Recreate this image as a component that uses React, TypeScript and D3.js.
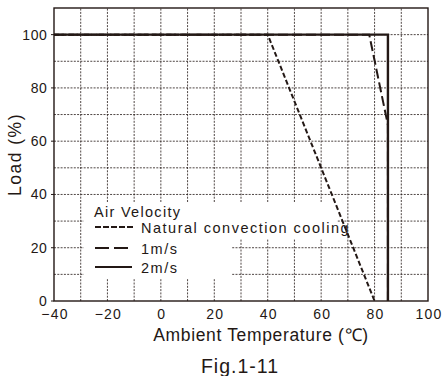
import { useEffect, useRef } from "react";
import * as d3 from "d3";

// derating curves
const naturalTemp = [-40, 40, 80];
const naturalLoad = [100, 100, 0];
const oneMsTemp = [-40, 78, 85, 85];
const oneMsLoad = [100, 100, 66, 0];
const twoMsTemp = [-40, 85, 85];
const twoMsLoad = [100, 100, 0];

const xTicks = [-40, -20, 0, 20, 40, 60, 80, 100];
const yTicks = [0, 20, 40, 60, 80, 100];
const xGrid = [-30, -20, -10, 0, 10, 20, 30, 40, 50, 60, 70, 80, 90];
const yGrid = [10, 20, 30, 40, 50, 60, 70, 80, 90, 100];

const legendLabels = ["Natural convection cooling", "1m/s", "2m/s"];

const INK = "#231815";
const FONT = "'Liberation Sans', Arial, sans-serif";

export default function App() {
  const ref = useRef<SVGSVGElement | null>(null);

  useEffect(() => {
    if (!ref.current) return;
    const width = 445;
    const height = 376;
    const margin = { top: 8, right: 17, bottom: 75, left: 54 };

    const svg = d3.select(ref.current).attr("width", width).attr("height", height);
    svg.selectAll("*").remove();

    const x = d3.scaleLinear().domain([-40, 100]).range([margin.left, width - margin.right]);
    const y = d3.scaleLinear().domain([0, 110]).range([height - margin.bottom, margin.top]);

    /* ---------------- GRID ---------------- */
    const grid = svg.append("g").attr("stroke", INK).attr("stroke-width", 0.8).attr("stroke-dasharray", "2,1.3");
    grid.selectAll(".gx")
      .data(xGrid)
      .enter()
      .append("line")
      .attr("x1", d => x(d))
      .attr("x2", d => x(d))
      .attr("y1", y(0))
      .attr("y2", y(110));
    grid.selectAll(".gy")
      .data(yGrid)
      .enter()
      .append("line")
      .attr("x1", x(-40))
      .attr("x2", x(100))
      .attr("y1", d => y(d))
      .attr("y2", d => y(d));

    /* ---------------- LEGEND BACKGROUND ---------------- */
    svg.append("rect")
      .attr("x", x(-28.8)).attr("y", 203)
      .attr("width", 337 - x(-28.8)).attr("height", 36)
      .attr("fill", "white");
    svg.append("rect")
      .attr("x", x(-28.8)).attr("y", 238)
      .attr("width", x(26.5) - x(-28.8)).attr("height", 41)
      .attr("fill", "white");

    /* ---------------- FRAME ---------------- */
    svg.append("rect")
      .attr("x", x(-40)).attr("y", y(110))
      .attr("width", x(100) - x(-40)).attr("height", y(0) - y(110))
      .attr("fill", "none").attr("stroke", INK).attr("stroke-width", 1.4);

    /* ---------------- AXES ---------------- */
    const yAxis = svg.append("g");
    yAxis.selectAll("line")
      .data(yTicks)
      .enter()
      .append("line")
      .attr("x1", x(-40) - 3).attr("x2", x(-40))
      .attr("y1", d => y(d)).attr("y2", d => y(d))
      .attr("stroke", INK).attr("stroke-width", 1);
    yAxis.selectAll("text")
      .data(yTicks)
      .enter()
      .append("text")
      .attr("x", x(-40) - 6.5)
      .attr("y", d => (d === 0 ? y(d) + 4.5 : y(d) + 5))
      .attr("text-anchor", "end")
      .attr("font-size", 14)
      .attr("letter-spacing", 0.6)
      .attr("font-family", FONT)
      .attr("fill", INK)
      .text(d => String(d));

    svg.append("g").selectAll("text")
      .data(xTicks)
      .enter()
      .append("text")
      .attr("x", d => x(d) + 1)
      .attr("y", 319)
      .attr("text-anchor", "middle")
      .attr("font-size", 14)
      .attr("letter-spacing", 1.2)
      .attr("font-family", FONT)
      .attr("fill", INK)
      .text(d => (d < 0 ? `\u2212${-d}` : String(d)));

    svg.append("text")
      .attr("x", 261).attr("y", 341)
      .attr("text-anchor", "middle")
      .attr("font-size", 17.5)
      .attr("letter-spacing", 0.65)
      .attr("font-family", FONT)
      .attr("fill", INK)
      .text("Ambient Temperature (\u2103)");

    svg.append("text")
      .attr("transform", `translate(21,${(y(0) + y(110)) / 2}) rotate(-90)`)
      .attr("text-anchor", "middle")
      .attr("font-size", 17.5)
      .attr("letter-spacing", 1.5)
      .attr("font-family", FONT)
      .attr("fill", INK)
      .text("Load (%)");

    svg.append("text")
      .attr("x", 240).attr("y", 373)
      .attr("text-anchor", "middle")
      .attr("font-size", 19.5)
      .attr("letter-spacing", 1)
      .attr("font-family", FONT)
      .attr("fill", INK)
      .text("Fig.1-11");

    /* ---------------- CURVES ---------------- */
    const line = d3.line<[number, number]>().x(d => x(d[0])).y(d => y(d[1]));
    const series = [
      { pts: d3.zip(naturalTemp, naturalLoad) as [number, number][], dash: "5,2.5", w: 2 },
      { pts: d3.zip(oneMsTemp, oneMsLoad) as [number, number][], dash: "10,4", w: 2 },
      { pts: d3.zip(twoMsTemp, twoMsLoad) as [number, number][], dash: null, w: 2.4 },
    ];
    series.forEach(s => {
      svg.append("path")
        .datum(s.pts)
        .attr("fill", "none")
        .attr("stroke", INK)
        .attr("stroke-width", s.w)
        .attr("stroke-dasharray", s.dash)
        .attr("d", line);
    });

    /* ---------------- LEGEND ---------------- */
    const lx = 95;
    svg.append("text")
      .attr("x", 94).attr("y", 216.5)
      .attr("font-size", 14.5)
      .attr("letter-spacing", 1.3)
      .attr("font-family", FONT)
      .attr("fill", INK)
      .text("Air Velocity");
    const rows = [227, 248, 267];
    series.forEach((s, i) => {
      svg.append("line")
        .attr("x1", lx).attr("x2", lx + (i === 0 ? 40 : 37))
        .attr("y1", rows[i]).attr("y2", rows[i])
        .attr("stroke", INK)
        .attr("stroke-width", i === 2 ? 2 : 1.8)
        .attr("stroke-dasharray", i === 0 ? "6,2" : i === 1 ? "14,5" : null);
      svg.append("text")
        .attr("x", 141).attr("y", rows[i] + 5.5)
        .attr("font-size", 14.5)
        .attr("letter-spacing", 1.5)
        .attr("font-family", FONT)
        .attr("fill", INK)
        .text(legendLabels[i]);
    });
  }, []);

  return <svg ref={ref} style={{ position: "absolute", left: 0, top: 0, background: "white" }} />;
}
